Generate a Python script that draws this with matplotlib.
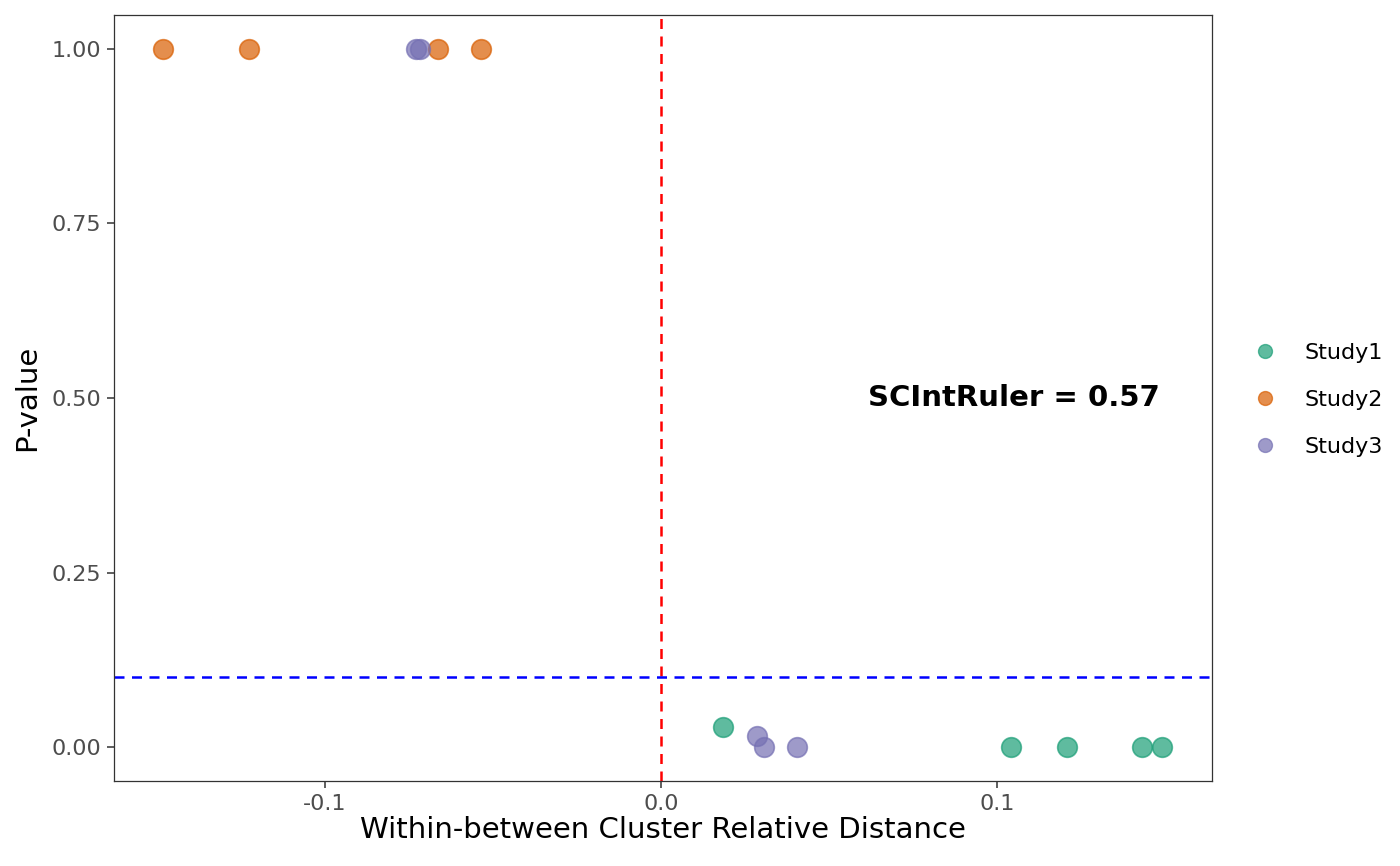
import matplotlib
matplotlib.use("Agg")
import matplotlib.pyplot as plt
from matplotlib.lines import Line2D

# 数据
studies = ["Study1", "Study2", "Study3"]
colors = ["#1B9E77", "#D95F02", "#7570B3"]
study1_x = [0.0185, 0.1042, 0.1208, 0.1432, 0.1491]
study1_p = [0.029, 0.0, 0.0, 0.0, 0.0]
study2_x = [-0.1482, -0.1226, -0.0664, -0.0536]
study2_p = [1.0, 1.0, 1.0, 1.0]
study3_x = [-0.0729, -0.0717, 0.0286, 0.0307, 0.0405]
study3_p = [1.0, 1.0, 0.016, 0.0, 0.0]
score_text = "SCIntRuler = 0.57"
p_cut = 0.1

xs = [study1_x, study2_x, study3_x]
ps = [study1_p, study2_p, study3_p]

fig = plt.figure(figsize=(14, 8.66), dpi=100)
ax = fig.add_axes([114 / 1400, 1 - 781 / 866, (1212 - 114) / 1400, (781 - 15) / 866])

# 散点
for x, p, c in zip(xs, ps, colors):
    ax.scatter(x, p, s=200, color=c, alpha=0.7, edgecolors=c, linewidths=1.2, zorder=3)

# 参考线
ax.axvline(0, color="red", linestyle=(0, (4, 3)), linewidth=1.8, zorder=2)
ax.axhline(p_cut, color="blue", linestyle=(0, (4, 3)), linewidth=1.8, zorder=2)

ax.text(0.1485, 0.5, score_text, ha="right", va="center", fontsize=21, fontweight="bold")

ax.set_xlim(-0.1628, 0.164)
ax.set_ylim(-0.0487, 1.0487)
ax.set_xticks([-0.1, 0.0, 0.1])
ax.set_xticklabels(["-0.1", "0.0", "0.1"])
ax.set_yticks([0, 0.25, 0.5, 0.75, 1.0])
ax.set_yticklabels(["0.00", "0.25", "0.50", "0.75", "1.00"])
ax.tick_params(labelsize=16, colors="#333333", labelcolor="#4D4D4D", length=5, width=1.1, pad=4)
for s in ax.spines.values():
    s.set_color("#333333")
    s.set_linewidth(0.9)

ax.set_xlabel("Within-between Cluster Relative Distance", fontsize=21, labelpad=2)
ax.set_ylabel("P-value", fontsize=21, labelpad=8)

# 图例
handles = [Line2D([], [], marker="o", linestyle="", markersize=10, color=c, alpha=0.7,
                  markeredgecolor=c) for c in colors]
fig.legend(handles, studies, loc="center left", bbox_to_anchor=(1243 / 1400, 1 - 400 / 866),
           frameon=False, fontsize=16, handletextpad=0.75, labelspacing=1.22,
           borderpad=0, borderaxespad=0)

fig.savefig("out.png", dpi=100)
